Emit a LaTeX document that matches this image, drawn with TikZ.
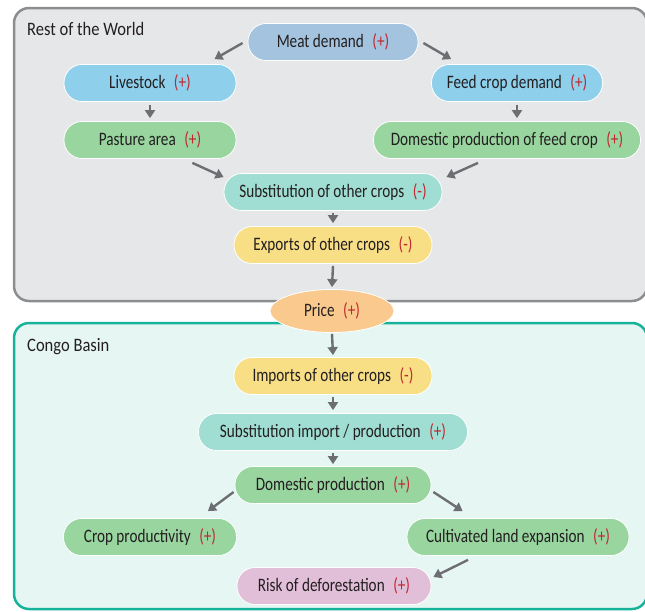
\documentclass[tikz,border=0pt]{standalone}
\usepackage{fontspec}
\setmainfont[FakeStretch=0.8]{Carlito}
\newfontfamily\ttlfont[FakeStretch=0.87]{Carlito}
\usetikzlibrary{arrows.meta,shapes.geometric}
\definecolor{txtc}{HTML}{231F20}
\definecolor{redc}{HTML}{C1272D}
\definecolor{arrc}{HTML}{6D6E71}
\definecolor{grayb}{HTML}{8C8D8F}
\definecolor{grayf}{HTML}{E6E7E8}
\definecolor{tealb}{HTML}{16B39A}
\definecolor{tealf}{HTML}{E6F6F3}
\definecolor{meatc}{HTML}{A4C3DF}
\definecolor{skyc}{HTML}{8ECFEB}
\definecolor{greenc}{HTML}{98D59F}
\definecolor{tealn}{HTML}{A0DDD3}
\definecolor{yellc}{HTML}{F8DF86}
\definecolor{orgc}{HTML}{F9C98E}
\definecolor{pinkc}{HTML}{E2BFD9}
\newcommand\plusmark{\hspace{0.45em}\textcolor{redc}{(+)}}
\newcommand\minusmark{\hspace{0.45em}\textcolor{redc}{(-)}}
\begin{document}
\begin{tikzpicture}[x=1pt,y=1pt,
  box/.style={rounded corners=18pt, minimum height=37pt, draw=white, line width=0.8pt,
    font=\fontsize{19}{21}\selectfont, text=txtc, inner sep=0pt},
  frame/.style={line width=2.5pt, rounded corners=15pt},
  ttl/.style={anchor=west, font=\ttlfont\fontsize{19}{21}\selectfont, text=txtc, inner sep=0pt},
  arr/.style={draw=arrc, line width=2.4pt, -{Triangle[length=8pt,width=10pt]}}]
\useasboundingbox (0,0) rectangle (645,-611);
\draw[frame, draw=grayb, fill=grayf] (14,-8) rectangle (647,-301);
\draw[frame, draw=tealb, fill=tealf] (14,-323) rectangle (647,-609);
\node[ttl] (rw) at (27,-29) {Rest of the World};
\node[ttl] (cb) at (27,-347) {Congo Basin};
% nodes
\node[box, fill=meatc, minimum width=170pt] (meat) at (333,-42) {Meat demand\plusmark};
\node[box, fill=skyc, minimum width=172pt] (live) at (150,-83) {Livestock\plusmark};
\node[box, fill=skyc, minimum width=171pt] (feed) at (517,-83) {Feed crop demand\plusmark};
\node[box, fill=greenc, minimum width=172pt] (past) at (150,-140) {Pasture area\plusmark};
\node[box, fill=greenc, minimum width=267pt] (dfeed) at (507,-140) {Domestic production of feed crop\plusmark};
\node[box, fill=tealn, minimum width=218pt] (subst) at (333,-192) {Substitution of other crops\minusmark};
\node[box, fill=yellc, minimum width=198pt] (exp) at (333,-245) {Exports of other crops\minusmark};
\node[ellipse, draw=white, line width=0.8pt, fill=orgc, minimum width=124pt, minimum height=43pt,
  inner sep=0pt, font=\fontsize{19}{21}\selectfont, text=txtc] (price) at (332,-311) {Price\plusmark};
\node[box, fill=yellc, minimum width=198pt] (imp) at (333,-376) {Imports of other crops\minusmark};
\node[box, fill=tealn, minimum width=269pt] (subimp) at (333,-432) {Substitution import / production\plusmark};
\node[box, fill=greenc, minimum width=196pt] (dom) at (333,-485) {Domestic production\plusmark};
\node[box, fill=greenc, minimum width=173pt] (crop) at (150,-537) {Crop productivity\plusmark};
\node[box, fill=greenc, minimum width=222pt] (cult) at (518,-537) {Cultivated land expansion\plusmark};
\node[box, fill=pinkc, minimum width=194pt] (risk) at (334,-586) {Risk of deforestation\plusmark};
% arrows
\draw[arr] ([shift={(-5,-1)}]meat.west) -- ([shift={(-22,5)}]live.north east);
\draw[arr] ([shift={(5,-1)}]meat.east) -- ([shift={(20,5)}]feed.north west);
\draw[arr] ([yshift=-3]live.south) -- ([yshift=3]past.north);
\draw[arr] ([yshift=-3]feed.south) -- ([yshift=3]feed.south |- dfeed.north);
\draw[arr] ([shift={(-44,-4)}]past.south east) -- ([shift={(0,-4)}]subst.north west);
\draw[arr] ([shift={(-29,-4)}]dfeed.south) -- ([shift={(4,-4)}]subst.north east);
\draw[arr] ([yshift=-2]subst.south) -- ([yshift=3]exp.north);
\draw[arr] ([yshift=-2]exp.south) -- ([yshift=2]price.north);
\draw[arr] ([yshift=-1]price.south) -- ([yshift=2]imp.north);
\draw[arr] ([yshift=-2]imp.south) -- ([yshift=3]subimp.north);
\draw[arr] ([yshift=-2]subimp.south) -- ([yshift=2]dom.north);
\draw[arr] ([shift={(-1,-7)}]dom.west) -- ([shift={(-29,7)}]crop.north east);
\draw[arr] ([shift={(2,-7)}]dom.east) -- ([shift={(56,7)}]cult.north west);
\draw[arr] ([shift={(-50,-4)}]cult.south) -- ([shift={(2,9)}]risk.east);
\end{tikzpicture}
\end{document}
